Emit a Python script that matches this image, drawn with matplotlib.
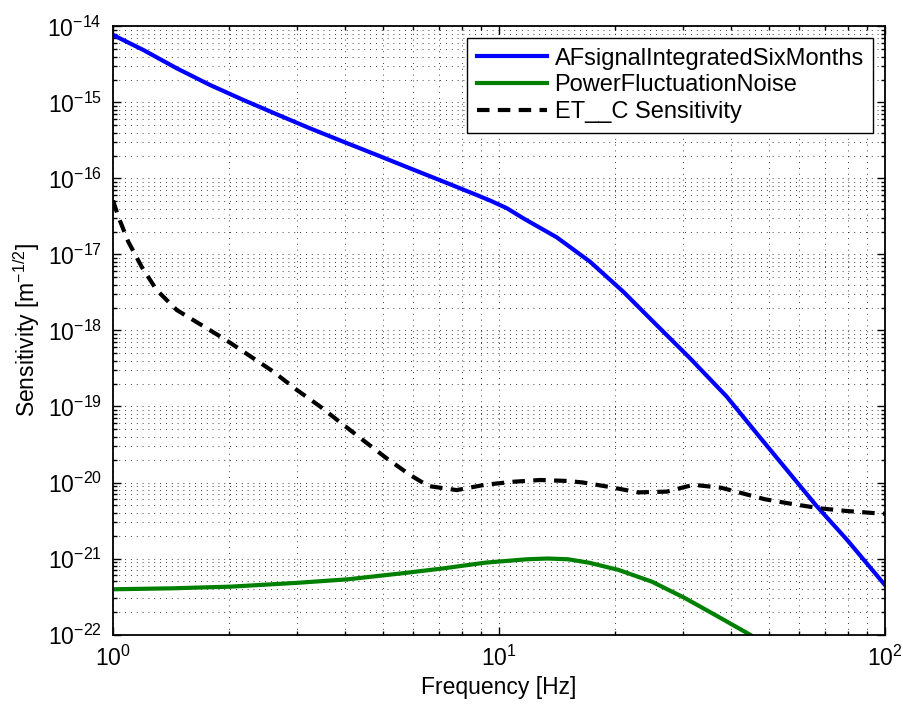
import matplotlib.pyplot as plt
import numpy as np

plt.rcParams['font.family'] = ['Liberation Sans', 'DejaVu Sans']
plt.rcParams['mathtext.fontset'] = 'custom'
plt.rcParams['mathtext.rm'] = 'Liberation Sans'
plt.rcParams['mathtext.it'] = 'Liberation Sans:italic'

# ----------
# DONNEES (log10 de la sensibilite)

f_af = [1.0, 1.198, 1.462, 1.784, 2.176, 2.655, 3.238, 3.95, 4.82, 5.88, 7.17, 8.75,
        9.48, 10.47, 11.56, 14.11, 17.21, 20.99, 25.62, 31.26, 38.9, 47.5, 56.0, 66.5,
        79.6, 100.0]
s_af = [-14.112, -14.309, -14.55, -14.77, -14.967, -15.155, -15.34, -15.516, -15.69,
        -15.866, -16.04, -16.217, -16.29, -16.39, -16.524, -16.774, -17.095, -17.49,
        -17.93, -18.366, -18.87, -19.41, -19.85, -20.31, -20.75, -21.35]

f_pf = [1.0, 1.426, 2.02, 3.0, 4.05, 5.6, 7.17, 9.2, 11.8, 13.35, 15.1, 17.1, 20.4,
        24.9, 30.3, 37.0, 44.6, 47.0]
s_pf = [-21.405, -21.392, -21.37, -21.32, -21.274, -21.195, -21.13, -21.055, -21.01,
        -21.0, -21.01, -21.055, -21.15, -21.305, -21.52, -21.766, -22.0, -22.07]

f_et = [1.0, 1.032, 1.095, 1.186, 1.297, 1.462, 1.697, 1.95, 2.24, 2.60, 2.99, 3.44,
        3.95, 4.49, 5.11, 5.88, 6.56, 7.77, 9.19, 10.89, 12.79, 15.1, 16.5, 19.4, 22.92,
        27.2, 31.9, 37.7, 41.1, 48.8, 57.1, 67.9, 79.6, 95.1, 100.0]
s_et = [-16.29, -16.50, -16.83, -17.16, -17.467, -17.73, -17.93, -18.116, -18.32, -18.54,
        -18.78, -19.0, -19.24, -19.46, -19.68, -19.90, -20.046, -20.10, -20.03, -19.99,
        -19.967, -19.98, -20.0, -20.06, -20.13, -20.12, -20.03, -20.07, -20.12, -20.22,
        -20.28, -20.34, -20.375, -20.405, -20.41]

labels = ['AFsignalIntegratedSixMonths', 'PowerFluctuationNoise', 'ET__C Sensitivity']

# ---------
# FIGURE

fig = plt.figure(figsize=(9.04, 7.04), dpi=100)
ax = fig.add_axes([0.125, 0.0987, 0.854, 0.8637])

ax.loglog(f_af, 10**np.array(s_af), color=(0, 0, 1), lw=3, label=labels[0])
ax.loglog(f_pf, 10**np.array(s_pf), color=(0, 0.5, 0), lw=3, label=labels[1])
ax.loglog(f_et, 10**np.array(s_et), color='k', lw=3, dashes=(3, 2), label=labels[2])

ax.set_xlim(1, 100)
ax.set_ylim(1e-22, 1e-14)
ax.set_yticks([10.0**k for k in range(-22, -13)])
ax.set_xticks([1, 10, 100])

grid_style = dict(color='k', lw=0.6, linestyle=(0, (1, 6)))
ax.grid(True, which='major', **grid_style)
ax.grid(True, which='minor', **grid_style)

ax.tick_params(which='both', direction='in', top=True, right=True, labelsize=16.5, width=1)
ax.tick_params(which='major', length=6, pad=8)
ax.tick_params(which='minor', length=3)
for sp in ax.spines.values():
    sp.set_linewidth(1.3)

ax.set_xlabel('Frequency [Hz]', fontsize=16.5)
ax.set_ylabel('Sensitivity [m$^{-1/2}$]', fontsize=16.5)

leg = ax.legend(loc='upper right', fontsize=17, handlelength=3.0, fancybox=False,
                framealpha=1, edgecolor='k', borderaxespad=0.5, labelspacing=0.2,
                handletextpad=0.3, borderpad=0.4)
leg.get_frame().set_linewidth(1.0)

fig.savefig('out.png', dpi=100)
